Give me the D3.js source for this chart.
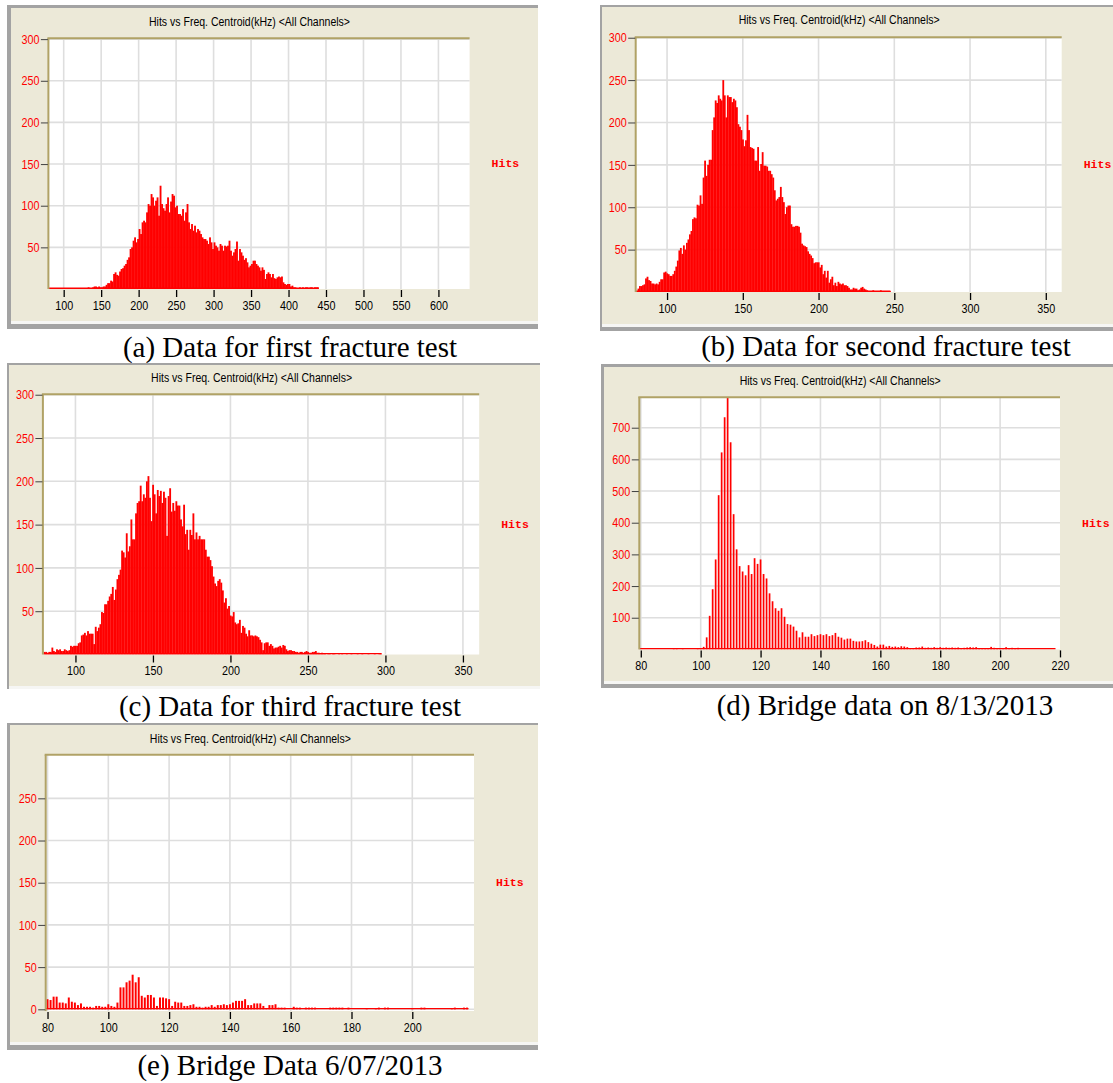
<!DOCTYPE html>
<html><head><meta charset="utf-8">
<script src="https://cdn.jsdelivr.net/npm/d3@7"></script>
<style>
html,body{margin:0;padding:0;background:#fff;}
svg{display:block;}
</style></head><body>
<svg id="c" width="1113" height="1083"></svg>
<script>
// ---------- DATA ----------
const chartTitle = "Hits vs Freq. Centroid(kHz) <All Channels>";
const seriesLabel = "Hits";
const captions = [
  "(a) Data for first fracture test",
  "(b) Data for second fracture test",
  "(c) Data for third fracture test",
  "(d) Bridge data on 8/13/2013",
  "(e) Bridge Data 6/07/2013"
];

// (a) bins of 2 kHz starting at 80 kHz
const binStartA = 80, binWidthA = 2;
const hitsA = [
  0,0,0,0,0, 0,0,0,0,0, 0,0,0,0,0, 0,0,0,0,0, 0,0,0,0,0,
  1,2,1,1,2,3,3,2,3,
  2,2,3,3,5,7,7,10,9,18,
  20,17,16,21,24,25,28,30,35,38,
  48,50,58,62,56,60,72,66,80,82,
  80,92,102,100,114,110,100,106,110,88,
  124,102,97,94,102,110,92,105,114,112,
  98,100,90,90,88,96,82,92,102,80,
  72,78,70,76,68,72,70,66,62,60,
  60,58,54,62,56,48,56,52,50,46,
  54,52,46,52,51,52,58,46,40,44,
  48,57,34,48,44,40,35,37,32,26,
  28,30,34,34,30,28,26,22,26,23,
  12,18,20,18,14,18,13,12,14,15,
  14,15,8,6,5,6,6,3,4,2,
  2,1,1,2,1,2,1,2,2,1,
  2,2,1,2,2,2
];

// (b) bins of 1 kHz starting at 80 kHz
const binStartB = 80, binWidthB = 1;
const hitsB = [
  1,4,7,7,8,9,16,18,14,13,
  10,10,9,10,9,12,15,15,23,24,
  22,21,19,19,21,25,30,37,49,52,
  45,55,50,58,62,68,72,86,88,87,
  103,102,114,104,135,155,137,150,156,156,
  191,206,226,223,232,228,226,250,232,206,
  232,230,230,224,228,226,218,198,195,191,
  180,172,179,209,191,171,170,169,155,155,
  171,143,151,165,149,149,148,143,143,139,
  135,120,108,110,112,124,112,106,92,100,
  102,102,80,77,77,78,78,77,70,57,
  55,54,53,48,45,43,40,34,35,35,
  35,29,32,21,25,17,25,11,15,18,
  8,11,7,12,10,9,10,8,8,7,
  5,3,3,5,4,4,2,3,5,6,
  4,3,2,1,1,1,2,1,1,1,
  1,2,1,1,1,1,1,1
];

// (c) bins of 1 kHz starting at 80 kHz
const binStartC = 80, binWidthC = 1;
const hitsC = [
  3,3,2,3,3,8,4,3,6,5,
  6,4,4,6,5,4,5,10,9,10,
  10,10,13,14,22,23,25,22,27,24,
  24,24,12,32,27,31,35,49,48,58,
  58,62,67,70,78,63,75,87,92,98,
  120,118,112,140,119,125,156,133,133,163,
  175,177,195,177,185,181,200,206,181,154,
  196,185,163,190,183,189,175,188,181,137,
  183,192,165,175,166,177,172,172,156,148,
  173,139,144,121,144,138,163,133,141,133,
  137,133,133,133,121,113,113,109,102,90,
  82,79,85,87,83,74,60,65,53,56,
  45,44,49,37,35,36,40,25,33,31,
  24,21,28,22,22,21,22,21,20,17,
  14,5,13,14,14,10,12,10,7,8,
  8,9,10,8,11,10,6,4,5,5,
  4,4,3,3,2,3,3,2,3,4,
  3,2,2,3,3,4,2,2,1,2,
  1,1,0,1,1,0,1,1,0,0,
  1,0,1,0,0,1,0,0,1,0,
  0,0,1,0,0,1,0,0,0,1,
  0,0,0,1,0,0,1,1
];

// (d) bins of 1 kHz starting at 80 kHz
const binStartD = 80, binWidthD = 1;
const hitsD = [
  0,0,0,0,0,0,0,0,0,0,
  0,3,3,0,3,0,0,0,0,3,
  2,8,38,106,190,284,487,622,733,810,
  654,427,316,263,246,234,266,238,288,270,
  284,238,224,177,152,130,122,130,103,80,
  78,72,59,38,54,40,40,48,42,45,
  48,45,48,42,45,52,40,37,31,34,
  34,27,25,25,26,29,23,18,14,9,
  15,15,9,11,8,9,7,10,9,7,
  4,4,6,6,9,5,6,5,7,5,
  7,5,6,5,6,5,6,4,5,6,
  7,6,7,4,3,4,4,8,5,2,
  2,2,7,3,5,4,5,0,0,0,
  0,0,0,0,0,0,0,0,0
];

// (e) bins of 1 kHz starting at 80 kHz
const binStartE = 80, binWidthE = 1;
const hitsE = [
  12,11,15,15,8,8,7,14,9,8,
  5,7,3,3,3,2,4,4,3,3,
  6,4,3,8,26,26,32,34,41,32,
  38,16,14,17,17,14,4,14,14,13,
  12,4,9,8,8,4,4,5,6,3,
  3,2,3,3,5,3,5,5,6,5,
  6,8,10,10,10,12,5,5,7,7,
  7,4,1,5,5,6,2,2,2,0,
  0,3,2,2,0,2,2,2,2,0,
  0,0,0,2,2,2,2,2,0,2,
  0,0,0,0,0,1,0,0,1,2,
  0,2,2,0,0,0,0,0,0,0,
  1,0,0,2,2,0,0,0,0,0,
  0,0,0,1,2,0,0,2,2
];

// tick values
const xTicksA = [100,150,200,250,300,350,400,450,500,550,600];
const xTicksBC = [100,150,200,250,300,350];
const xTicksD = [80,100,120,140,160,180,200,220];
const xTicksE = [80,100,120,140,160,180,200];
const yTicksABC = [50,100,150,200,250,300];
const yTicksD = [100,200,300,400,500,600,700];
const yTicksE = [0,50,100,150,200,250];

// ---------- LAYOUT ----------
const panels = [
  {hits: hitsA, start: binStartA, bw: binWidthA, align: "left", frac: 1, extra: 0.35,
   xDomain: [79.6, 641.6], yDomain: [0, 301], plot: {l: 48.4, r: 469.6, t: 38.3, b: 289},
   xTicks: xTicksA, yTicks: yTicksABC, gridX: xTicksA, gridY: yTicksABC,
   frame: {x: 7, y: 5, w: 531, h: 324}, inner: {x: 11, y: 8, w: 527, h: 313},
   titleY: 26, cap: captions[0], capX: 290, capY: 357},
  {hits: hitsB, start: binStartB, bw: binWidthB, align: "center", frac: 1, extra: 0.3,
   xDomain: [79.3, 360.5], yDomain: [0, 300.5], plot: {l: 635.7, r: 1061.7, t: 37.3, b: 292},
   xTicks: xTicksBC, yTicks: yTicksABC, gridX: xTicksBC, gridY: yTicksABC,
   frame: {x: 600, y: 5, w: 513, h: 326}, inner: {x: 602, y: 7, w: 511, h: 317},
   titleY: 24.3, cap: captions[1], capX: 886, capY: 356},
  {hits: hitsC, start: binStartC, bw: binWidthC, align: "center", frac: 1, extra: 0.3,
   xDomain: [79, 360.5], yDomain: [0, 300.5], plot: {l: 42.9, r: 479.2, t: 394.3, b: 654.5},
   xTicks: xTicksBC, yTicks: yTicksABC, gridX: xTicksBC, gridY: yTicksABC,
   frame: {x: 7, y: 363, w: 533, h: 326}, inner: {x: 9, y: 365, w: 531, h: 321},
   titleY: 381.6, cap: captions[2], capX: 290, capY: 716},
  {hits: hitsD, start: binStartD, bw: binWidthD, align: "center", frac: 0.57, extra: 0,
   xDomain: [79.5, 220], yDomain: [0, 796], plot: {l: 639.3, r: 1060, t: 397.3, b: 649.4},
   xTicks: xTicksD, yTicks: yTicksD, gridX: xTicksD, gridY: yTicksD,
   frame: {x: 601, y: 364, w: 512, h: 324}, inner: {x: 604, y: 367, w: 509, h: 314},
   titleY: 385.3, cap: captions[3], capX: 885, capY: 715},
  {hits: hitsE, start: binStartE, bw: binWidthE, align: "center", frac: 0.65, extra: 0,
   xDomain: [79.4, 220.3], yDomain: [-2, 301.7], plot: {l: 45.7, r: 474, t: 754.7, b: 1011},
   xTicks: xTicksE, yTicks: yTicksE, gridX: xTicksE, gridY: yTicksE,
   frame: {x: 7, y: 723, w: 531, h: 327}, inner: {x: 10, y: 725, w: 528, h: 317},
   titleY: 742.6, cap: captions[4], capX: 290, capY: 1075}
];

const svg = d3.select("#c");
const RED = "#ff0000";
const BEIGE = "#ece9d8";
const SANS = "'Liberation Sans', Arial, sans-serif";

panels.forEach((p, idx) => {
  const g = svg.append("g");
  // panel frame
  g.append("rect").attr("x", p.frame.x).attr("y", p.frame.y)
    .attr("width", p.frame.w).attr("height", p.frame.h).attr("fill", "#a3a3a3");
  g.append("rect").attr("x", p.inner.x).attr("y", p.inner.y)
    .attr("width", p.inner.w).attr("height", p.inner.h).attr("fill", BEIGE);
  g.append("rect").attr("x", p.inner.x).attr("y", p.inner.y + p.inner.h)
    .attr("width", p.inner.w).attr("height", 3).attr("fill", "#f6f6f4");

  const x = d3.scaleLinear().domain(p.xDomain).range([p.plot.l, p.plot.r]);
  const y = d3.scaleLinear().domain(p.yDomain).range([p.plot.b, p.plot.t]);
  const [x0, x1] = x.range();
  const [yb, yt] = y.range();

  // plot background
  g.append("rect").attr("x", x0).attr("y", yt).attr("width", x1 - x0).attr("height", yb - yt)
    .attr("fill", "#ffffff");

  // grid
  g.append("g").selectAll("line").data(p.gridX.filter(v => x(v) > x0 + 1 && x(v) < x1 - 1)).join("line")
    .attr("x1", d => x(d)).attr("x2", d => x(d)).attr("y1", yt).attr("y2", yb)
    .attr("stroke", "#dedede").attr("stroke-width", 1.6);
  g.append("g").selectAll("line").data(p.gridY).join("line")
    .attr("x1", x0).attr("x2", x1).attr("y1", d => y(d)).attr("y2", d => y(d))
    .attr("stroke", "#dedede").attr("stroke-width", 1.6);

  // clip
  const cid = "clip" + idx;
  svg.append("defs").append("clipPath").attr("id", cid).append("rect")
    .attr("x", x0).attr("y", yt).attr("width", x1 - x0).attr("height", yb - yt);

  const bins = p.hits.map((v, i) => ({f: p.start + i * p.bw, v}));
  const bg = g.append("g").attr("clip-path", `url(#${cid})`);
  // zero baseline of the histogram
  const fFirst = bins[0].f, fLast = bins[bins.length - 1].f;
  const bx0 = p.align === "left" ? x(fFirst) : x(fFirst - p.bw / 2);
  const bx1 = p.align === "left" ? x(fLast + p.bw) : x(fLast + p.bw / 2);
  bg.append("line").attr("x1", bx0).attr("x2", bx1)
    .attr("y1", y(0) - 0.7).attr("y2", y(0) - 0.7)
    .attr("stroke", RED).attr("stroke-width", 1.4);

  bg.selectAll("rect.bar").data(bins.filter(d => d.v > 0)).join("rect")
    .attr("class", "bar")
    .attr("x", d => {
      if (p.align === "left") return x(d.f);
      const full = x(d.f + p.bw / 2) - x(d.f - p.bw / 2);
      return x(d.f) - full * p.frac / 2;
    })
    .attr("width", d => {
      const full = x(d.f + p.bw) - x(d.f);
      return full * p.frac + p.extra;
    })
    .attr("y", d => y(d.v))
    .attr("height", d => y(0) - y(d.v))
    .attr("fill", RED);

  // plot border (sunken look)
  g.append("line").attr("x1", x0 - 1).attr("x2", x1).attr("y1", yt).attr("y2", yt)
    .attr("stroke", "#b0a266").attr("stroke-width", 2);
  g.append("line").attr("x1", x0).attr("x2", x0).attr("y1", yt).attr("y2", yb)
    .attr("stroke", "#b0a266").attr("stroke-width", 2);

  // axes
  const ay = g.append("g").attr("transform", `translate(${x0 - 0.5},0)`)
    .call(d3.axisLeft(y).tickValues(p.yTicks).tickSize(7).tickPadding(1.5).tickFormat(d3.format("d")));
  ay.select(".domain").remove();
  ay.selectAll(".tick line").attr("stroke", "#404040").attr("stroke-width", 1);
  ay.selectAll(".tick text").attr("fill", RED).attr("font-family", SANS).attr("font-size", 13)
    .attr("textLength", function () { return this.textContent.length * 6; })
    .attr("lengthAdjust", "spacingAndGlyphs");

  const ax = g.append("g").attr("transform", `translate(0,${yb + 1})`)
    .call(d3.axisBottom(x).tickValues(p.xTicks).tickSize(7).tickPadding(3.5).tickFormat(d3.format("d")));
  ax.select(".domain").remove();
  ax.selectAll(".tick line").attr("stroke", "#000").attr("stroke-width", 1.3);
  ax.selectAll(".tick text").attr("fill", "#000").attr("font-family", SANS).attr("font-size", 13)
    .attr("textLength", function () { return this.textContent.length * 6; })
    .attr("lengthAdjust", "spacingAndGlyphs");

  // title
  g.append("text").attr("x", (x0 + x1) / 2 - 9.5).attr("y", p.titleY)
    .attr("text-anchor", "middle").attr("font-family", SANS).attr("font-size", 12.5)
    .attr("textLength", 201).attr("lengthAdjust", "spacingAndGlyphs")
    .attr("fill", "#000").text(chartTitle);

  // series label
  g.append("text").attr("x", x1 + 22).attr("y", (yt + yb) / 2)
    .attr("dominant-baseline", "central")
    .attr("font-family", "'Liberation Mono', 'Courier New', monospace").attr("font-weight", "bold")
    .attr("font-size", 11.5).attr("fill", RED).text(seriesLabel);

  // caption
  svg.append("text").attr("x", p.capX).attr("y", p.capY).attr("text-anchor", "middle")
    .attr("font-family", "'Liberation Serif', 'Times New Roman', serif").attr("font-size", 29)
    .attr("fill", "#000").text(p.cap);
});
</script>
</body></html>
